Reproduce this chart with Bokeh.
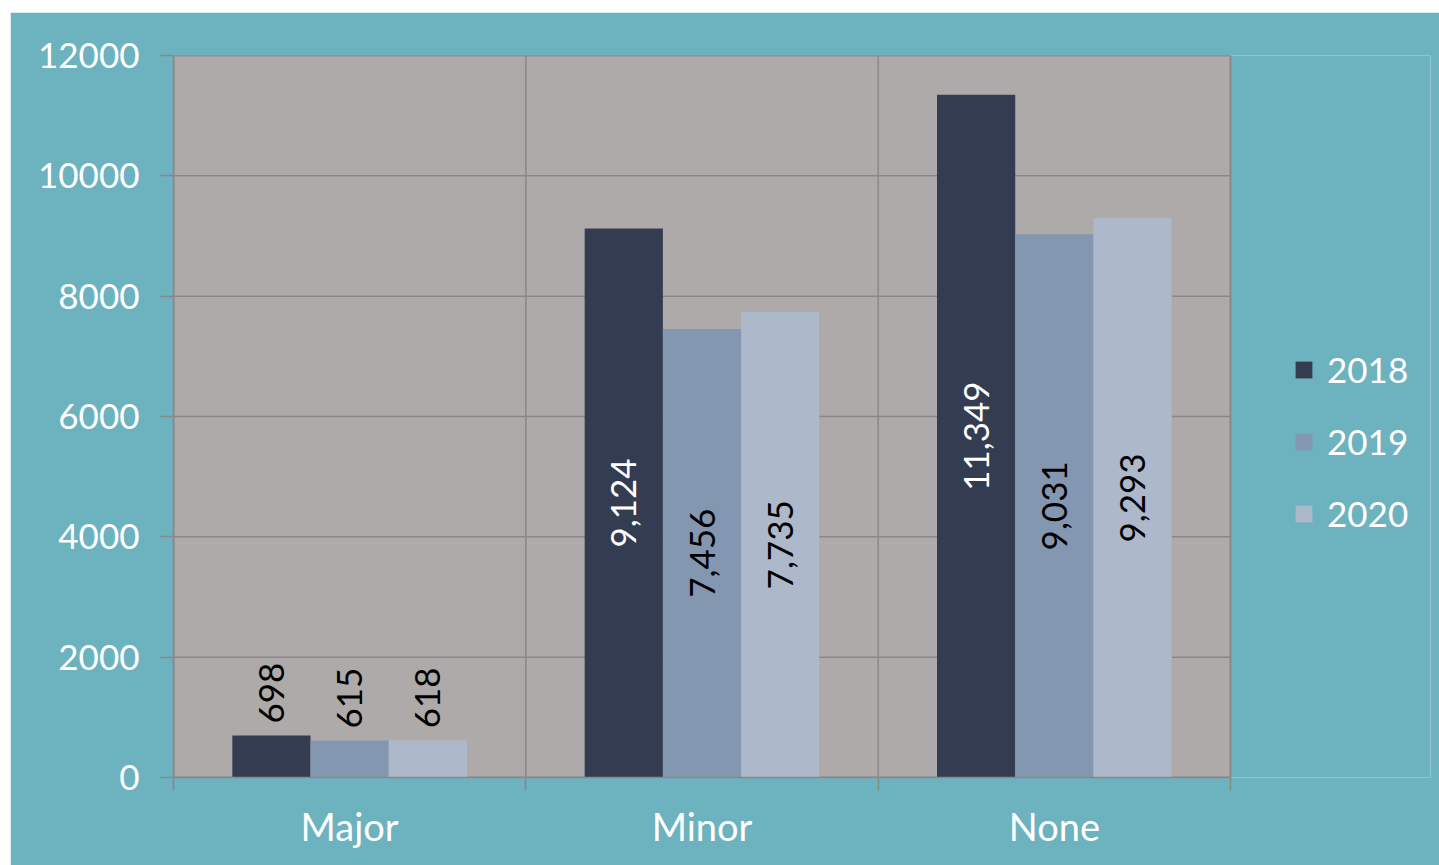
from bokeh.plotting import figure
from bokeh.models import (ColumnDataSource, FixedTicker, Legend, LegendItem, Range1d, Spacer)
from bokeh.layouts import column, row
from bokeh.core.properties import value
from bokeh.embed import file_html
from bokeh.resources import INLINE
import math

categories = ["Major", "Minor", "None"]
years = ["2018", "2019", "2020"]
values_2018 = [698, 9124, 11349]
values_2019 = [615, 7456, 9031]
values_2020 = [618, 7735, 9293]
y_ticks = [0, 2000, 4000, 6000, 8000, 10000, 12000]

series = [values_2018, values_2019, values_2020]
colors = ["#333c50", "#8497b0", "#adb9ca"]
inside_text_colors = ["white", "black", "black"]
offsets = [-0.222, 0.0, 0.222]
bar_w = 0.222
FONT = "Lato"
GRID = "#8a8787"
TEAL = "#6db2bf"

n = len(categories)
ymax = y_ticks[-1]
# plot area spans categories 0..n; frame extended to the right to host the legend
frame_px = 1429 - 163 - 9
cat_px = 1057 / n
x_end = frame_px / cat_px

p = figure(width=1429, height=853, output_backend="svg", toolbar_location=None,
           x_range=Range1d(0, x_end), y_range=Range1d(0, ymax),
           min_border_left=163, min_border_right=9, min_border_top=43, min_border_bottom=88)
p.background_fill_color = TEAL
p.border_fill_color = TEAL
p.outline_line_color = None
p.xgrid.visible = False
p.ygrid.visible = False

# gray plotting area
p.quad(left=[0], right=[n], bottom=[0], top=[ymax], fill_color="#aeaaaa",
       line_color=GRID, line_width=1.5, level="image")
# grid lines limited to the plotting area
p.segment(x0=[0] * len(y_ticks), x1=[n] * len(y_ticks), y0=y_ticks, y1=y_ticks,
          line_color=GRID, line_width=1.5, level="underlay")
bounds = list(range(n + 1))
p.segment(x0=bounds, x1=bounds, y0=[0] * len(bounds), y1=[ymax] * len(bounds),
          line_color=GRID, line_width=1.5, level="underlay")

renderers = []
for i, vals in enumerate(series):
    xs = [k + 0.5 + offsets[i] for k in range(n)]
    src = ColumnDataSource(dict(x=xs, top=vals))
    r = p.vbar(x="x", top="top", width=bar_w, bottom=0, source=src,
               fill_color=colors[i], line_color=None)
    renderers.append(r)
    in_x, in_y, in_t, out_x, out_y, out_t = [], [], [], [], [], []
    for xv, v in zip(xs, vals):
        if v > 2000:
            in_x.append(xv); in_y.append(v / 2); in_t.append(f"{v:,}")
        else:
            out_x.append(xv); out_y.append(v); out_t.append(f"{v:,}")
    p.text(x=in_x, y=in_y, text=in_t, angle=math.pi / 2, text_align="center",
           text_baseline="middle", text_color=inside_text_colors[i],
           text_font=value(FONT), text_font_size="35px")
    p.text(x=out_x, y=out_y, text=out_t, angle=math.pi / 2, text_align="left",
           text_baseline="middle", text_color="black", y_offset=-12,
           text_font=value(FONT), text_font_size="35px")

xa = p.xaxis[0]
xa.bounds = (0, n)
xa.ticker = FixedTicker(ticks=[k + 0.5 for k in range(n)], minor_ticks=bounds)
xa.major_label_overrides = {k + 0.5: c for k, c in enumerate(categories)}
xa.major_tick_out = 0
xa.major_tick_in = 0
xa.minor_tick_out = 13
xa.minor_tick_in = 0
xa.minor_tick_line_color = GRID
xa.minor_tick_line_width = 1.5
xa.axis_line_color = GRID
xa.axis_line_width = 1.5
xa.major_label_text_color = "white"
xa.major_label_text_font = FONT
xa.major_label_text_font_size = "38px"
xa.major_label_standoff = 12

ya = p.yaxis[0]
ya.ticker = FixedTicker(ticks=y_ticks)
ya.major_tick_out = 13
ya.major_tick_in = 0
ya.minor_tick_out = 0
ya.minor_tick_in = 0
ya.major_tick_line_color = GRID
ya.major_tick_line_width = 1.5
ya.axis_line_color = GRID
ya.axis_line_width = 1.5
ya.major_label_text_color = "white"
ya.major_label_text_font = FONT
ya.major_label_text_font_size = "35px"
ya.major_label_standoff = 21

legend = Legend(items=[LegendItem(label=y, renderers=[r]) for y, r in zip(years, renderers)],
                location=(1120, 243), orientation="vertical")
legend.background_fill_alpha = 0
legend.border_line_color = None
legend.margin = 0
legend.padding = 0
legend.glyph_width = 21
legend.glyph_height = 21
legend.label_standoff = 13
legend.label_text_color = "white"
legend.label_text_font = FONT
legend.label_text_font_size = "35px"
legend.label_height = 40
legend.spacing = 30
p.add_layout(legend, "center")

layout = column(Spacer(height=12, width=1439), row(Spacer(width=10, height=853), p))
open("out.html", "w").write(file_html(layout, INLINE))
